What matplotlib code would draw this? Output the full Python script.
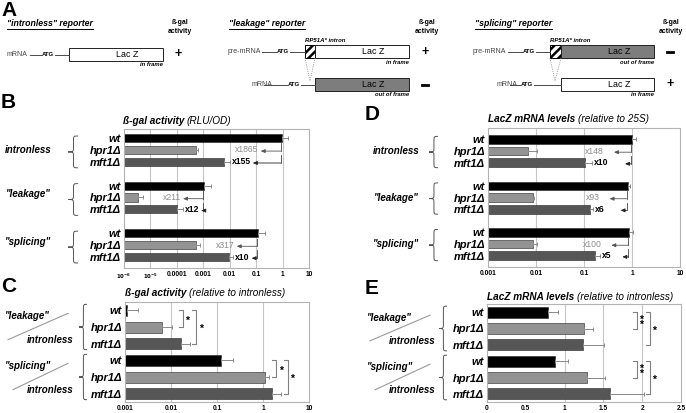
#!/usr/bin/env python
"""Reporter schematic (A) plus ß-gal activity / LacZ mRNA bar panels (B-E) for wt, hpr1Δ, mft1Δ."""
import matplotlib
matplotlib.use("Agg")
import matplotlib.pyplot as plt
from matplotlib import transforms
from matplotlib.patches import Rectangle, PathPatch
from matplotlib.path import Path
from matplotlib.ticker import NullLocator

plt.rcParams["font.family"] = ["Liberation Sans", "DejaVu Sans"]
plt.rcParams["hatch.linewidth"] = 1.8

W, H = 686, 413

STRAINS = ["wt", "hpr1Δ", "mft1Δ"]
REPORTERS = ["intronless", '"leakage"', '"splicing"']
STRAIN_COLORS = ["#000000", "#939393", "#565656"]

# B: ß-gal activity (RLU/OD), rows = reporter x strain
bgal_rlu = [0.93, 5.3e-4, 6.1e-3, 1.07e-3, 3.3e-6, 1.0e-4, 0.115, 5.3e-4, 9.8e-3]
bgal_rlu_err = [0.67, 0.9e-4, 3.9e-3, 0.83e-3, 2.1e-6, 0.7e-4, 0.105, 2.3e-4, 3.7e-3]
bgal_fold_hpr1 = ["x1865", "x211", "x317"]
bgal_fold_mft1 = ["x155", "x12", "x10"]

# D: LacZ mRNA levels relative to 25S
mrna_25s = [1.0, 0.0067, 0.105, 0.81, 0.0085, 0.133, 0.88, 0.0088, 0.17]
mrna_25s_err = [0.2, 0.0036, 0.039, 0.10, 0.0007, 0.022, 0.17, 0.0015, 0.045]
mrna_fold_hpr1 = ["x148", "x93", "x100"]
mrna_fold_mft1 = ["x10", "x6", "x5"]

# C: ß-gal activity relative to intronless ("leakage" rows then "splicing" rows)
bgal_rel = [0.00112, 0.0063, 0.0165, 0.12, 1.09, 1.55]
bgal_rel_err = [0.0008, 0.0042, 0.0095, 0.10, 0.26, 0.95]
bgal_rel_sig = ["*", "*"]      # wt vs hpr1Δ, wt vs mft1Δ

# E: LacZ mRNA relative to intronless
mrna_rel = [0.79, 1.25, 1.24, 0.87, 1.29, 1.58]
mrna_rel_err = [0.13, 0.12, 0.27, 0.17, 0.23, 0.44]
mrna_rel_sig = ["*\n*", "*"]

LOG_TICKS_B = [1e-6, 1e-5, 1e-4, 1e-3, 1e-2, 1e-1, 1, 10]
LOG_LABELS_B = [r"$\mathbf{10^{-6}}$", r"$\mathbf{10^{-5}}$", "0.0001", "0.001", "0.01", "0.1", "1", "10"]
LOG_TICKS_CD = [1e-3, 1e-2, 1e-1, 1, 10]
LOG_LABELS_CD = ["0.001", "0.01", "0.1", "1", "10"]
LIN_TICKS_E = [0, 0.5, 1, 1.5, 2, 2.5]
LIN_LABELS_E = ["0", "0.5", "1", "1.5", "2", "2.5"]

LINE = "#4a4a4a"
GREY = "#7d7d7d"

fig = plt.figure(figsize=(W / 100, H / 100), dpi=100)
ov = fig.add_axes([0, 0, 1, 1], zorder=10)
ov.set_xlim(0, W); ov.set_ylim(H, 0); ov.axis("off")
R = fig.canvas.get_renderer()


def px_rect(l, t, r, b):
    return [l / W, 1 - b / H, (r - l) / W, (b - t) / H]


def to_ov(disp):
    return ov.transData.inverted().transform(disp)


def right_edge(t):
    bb = t.get_window_extent(R)
    return to_ov((bb.x1, bb.y0))[0]


def txt(x, y, s, size, ha="left", bold=False, italic=False, color="black", **kw):
    return ov.text(x, y, s, fontsize=size, ha=ha, va="center",
                   fontweight="bold" if bold else "normal",
                   fontstyle="italic" if italic else "normal", color=color, **kw)


def hline(x0, x1, y, color=LINE, lw=0.7):
    ov.plot([x0, x1], [y, y], color=color, lw=lw)


# ---------------- Panel A: reporter schematics ----------------
def reporter_title(x, s):
    t = txt(x, 23, s, 6.3, bold=True, italic=True)
    hline(x, right_edge(t), 28.5, color="black", lw=0.7)


def activity_header(x):
    txt(x, 23, "ß-gal", 5, ha="center", bold=True)
    txt(x, 31.5, "activity", 5, ha="center", bold=True)


def transcript(label, xl, x_line0, x_atg, x_box, y):
    txt(xl, y, label, 5, color="#444")
    hline(x_line0, x_atg - 1, y)
    a = txt(x_atg, y, "ATG", 4.3, bold=True)
    hline(right_edge(a) + 1, x_box, y)


def lacz(x0, x1, y0, y1, grey, frame):
    ov.add_patch(Rectangle((x0, y0), x1 - x0, y1 - y0, facecolor=GREY if grey else "white",
                           edgecolor="#222", lw=0.7))
    txt((x0 + x1) / 2, (y0 + y1) / 2, "Lac Z", 6.4)
    txt(x1, y1 + 4, frame, 4.2, ha="right", bold=True, italic=True)


def intron(x0, x1, y0, y1, x_join, y_join):
    ov.add_patch(Rectangle((x0, y0), x1 - x0, y1 - y0, facecolor="white", edgecolor="black",
                           hatch="////", lw=0.7))
    txt(x0, y0 - 4, "RP51A* intron", 4.3, bold=True, italic=True)
    ov.plot([x0, x_join, x1], [y1, y_join, y1], color="#777", lw=0.6, ls=":")


def sign(x, y, s):
    if s == "+":
        txt(x, y, s, 9, ha="center", bold=True)
    else:
        hline(x - 3, x + 3, y, color="black", lw=2.0)


txt(1, 10, "A", 15, bold=True)
reporter_title(7, '"intronless" reporter')
activity_header(180)
transcript("mRNA", 7, 30, 42, 69, 54.5)
lacz(69, 163, 48, 61, False, "in frame")
sign(178, 54.5, "+")

reporter_title(229, '"leakage" reporter')
activity_header(427)
transcript("pre-mRNA", 228, 262, 277, 305, 51.5)
intron(305, 315, 45, 58, 310, 81)
lacz(315, 409, 45, 58, False, "in frame")
sign(425, 51.5, "+")
transcript("mRNA", 252, 264, 288, 315, 84.5)
lacz(315, 409, 78, 91, True, "out of frame")
sign(425, 84.5, "-")

reporter_title(475, '"splicing" reporter')
activity_header(671)
transcript("pre-mRNA", 473, 508, 523, 550, 51.5)
intron(550, 561, 45, 58, 555, 81)
lacz(561, 654, 45, 58, True, "out of frame")
sign(670, 51.5, "-")
transcript("mRNA", 497, 510, 521, 561, 84.5)
lacz(561, 654, 78, 91, False, "in frame")
sign(670, 84.5, "+")


# ---------------- bar panels ----------------
def bar_panel(rect, xlim, ylim, ypos, vals, errs, ticks, labels, grid, height, log=True):
    ax = fig.add_axes(rect)
    if log:
        ax.set_xscale("log")
    ax.set_xlim(*xlim); ax.set_ylim(*ylim)
    left = xlim[0]
    colors = [STRAIN_COLORS[i % 3] for i in range(len(vals))]
    ax.barh(ypos, [v - left for v in vals], left=left, height=height, color=colors,
            edgecolor="#222", linewidth=0.4, zorder=2)
    ax.errorbar(vals, ypos, xerr=[[0] * len(vals), errs], fmt="none", ecolor="#8a8a8a",
                elinewidth=0.7, capsize=1.6, capthick=0.7, zorder=3)
    for g in grid:
        ax.axvline(g, color="#c6c6c6", lw=0.8, zorder=0.5)
    ax.set_xticks(ticks)
    ax.set_xticklabels(labels, fontsize=4.8, fontweight="bold")
    for lab in ax.get_xticklabels():
        if lab.get_text().startswith("$"):
            lab.set_fontsize(3.9)
    ax.xaxis.set_minor_locator(NullLocator())
    ax.set_yticks(ypos)
    ax.set_yticklabels([STRAINS[i % 3] for i in range(len(vals))], fontsize=8,
                       fontweight="bold", fontstyle="italic")
    ax.tick_params(axis="x", length=0, pad=2.5)
    ax.tick_params(axis="y", length=0, pad=2)
    for sp in ax.spines.values():
        sp.set_color("#b3b3b3"); sp.set_linewidth(0.8)
    return ax


def row_px(ax, y):
    return to_ov(ax.transData.transform((ax.get_xlim()[1], y)))[1]


def x_px(ax, x, y):
    return to_ov(ax.transData.transform((x, y)))[0]


def brace(x_tip, y0, y1, w=9):
    xb, xe = x_tip + w * 0.55, x_tip + w
    ym = (y0 + y1) / 2
    r = min(5.0, (y1 - y0) / 5)
    verts = [(xe, y0), (xb, y0), (xb, y0), (xb, y0 + r),
             (xb, ym - r),
             (xb, ym), (xb, ym), (x_tip, ym),
             (xb, ym), (xb, ym), (xb, ym + r),
             (xb, y1 - r),
             (xb, y1), (xb, y1), (xe, y1)]
    codes = [Path.MOVETO, Path.CURVE4, Path.CURVE4, Path.CURVE4, Path.LINETO,
             Path.CURVE4, Path.CURVE4, Path.CURVE4,
             Path.CURVE4, Path.CURVE4, Path.CURVE4, Path.LINETO,
             Path.CURVE4, Path.CURVE4, Path.CURVE4]
    ov.add_patch(PathPatch(Path(verts, codes), facecolor="none", edgecolor="#555", lw=0.7))


def arrow(x_from, x_to, y, color):
    ov.annotate("", xy=(x_to, y), xytext=(x_from, y),
                arrowprops=dict(arrowstyle="-|>,head_length=0.5,head_width=0.22", color=color,
                                lw=0.6, shrinkA=0, shrinkB=0, mutation_scale=5))


def fold_hooks(ax, ypos, vals, errs, hpr1_labels, mft1_labels, arrow_len, text_gap, mft1_arrow):
    for g in range(3):
        wt = 3 * g
        xv = x_px(ax, vals[wt], ypos[wt]) - 1
        for row, label, strong in ((wt + 1, hpr1_labels[g], False), (wt + 2, mft1_labels[g], True)):
            y_top, y_a, y_t = row_px(ax, ypos[row] - 0.55), row_px(ax, ypos[row] + 0.1), row_px(ax, ypos[row])
            ov.plot([xv, xv], [y_top, y_a], color="#444", lw=0.6)
            if strong:
                start = x_px(ax, vals[row] + errs[row], ypos[row]) + 2
                t = txt(start, y_t, label, 6.2, bold=True)
                end = right_edge(t) + 2 if mft1_arrow is None else xv - mft1_arrow
                arrow(xv, end, y_a, "#222")
            else:
                txt(xv - text_gap, y_t, label, 6.2, ha="right", color="#8c8c8c")
                arrow(xv, xv - arrow_len, y_a, "#555")


def two_part_title(x, y, bold_part, rest):
    t = txt(x, y, bold_part, 7.2, bold=True, italic=True)
    txt(right_edge(t) + 2.5, y, rest, 7.2, italic=True)


ypos9 = [4 * g + s for g in range(3) for s in range(3)]
ypos6 = list(range(6))

# ---- B ----
axB = bar_panel(px_rect(124, 129, 309, 268), (1e-6, 10), ((268 - 138) / 11.9, (129 - 138) / 11.9),
                ypos9, bgal_rlu, bgal_rlu_err, LOG_TICKS_B, LOG_LABELS_B, LOG_TICKS_B[1:-1], 0.68)
txt(1, 103, "B", 15, bold=True)
two_part_title(123, 121, "ß-gal activity", "(RLU/OD)")
fold_hooks(axB, ypos9, bgal_rlu, bgal_rlu_err, bgal_fold_hpr1, bgal_fold_mft1, 20, 22, None)
for g, name in enumerate(REPORTERS):
    brace(68, row_px(axB, ypos9[3 * g]) - 2, row_px(axB, ypos9[3 * g + 2]) + 6, 10)
    txt(28, row_px(axB, ypos9[3 * g + 1]) - (0 if g == 0 else 3), name, 7, ha="center", bold=True, italic=True)

# ---- D ----
axD = bar_panel(px_rect(488, 128, 680, 267), (1e-3, 10), (10.97, -0.98),
                ypos9, mrna_25s, mrna_25s_err, LOG_TICKS_CD, LOG_LABELS_CD, LOG_TICKS_CD[1:-1], 0.75)
txt(365, 115, "D", 15, bold=True)
two_part_title(488, 119, "LacZ mRNA levels", "(relative to 25S)")
fold_hooks(axD, ypos9, mrna_25s, mrna_25s_err, mrna_fold_hpr1, mrna_fold_mft1, 17, 27, 6)
for g, name in enumerate(REPORTERS):
    brace(429, row_px(axD, ypos9[3 * g]) - 3, row_px(axD, ypos9[3 * g + 2]) + 5, 9)
    txt(396, row_px(axD, ypos9[3 * g + 1]), name, 7, ha="center", bold=True, italic=True)


# ---- C & E ----
def sig_brackets(ax, marks, xfracs, arm):
    tr = transforms.blended_transform_factory(ax.transAxes, ax.transData)
    for g in range(2):
        base = 3 * g
        for other, mark, xf in zip((base + 1, base + 2), marks, xfracs[g]):
            y0, y1 = ypos6[base], ypos6[other]
            ax.plot([xf - arm, xf, xf, xf - arm], [y0, y0, y1, y1], transform=tr,
                    color="#808080", lw=0.8, clip_on=False, zorder=4)
            ax.text(xf + 0.012, (y0 + y1) / 2 + 0.12, mark, transform=tr, fontsize=7.5,
                    fontweight="bold", ha="left", va="center", linespacing=0.45, zorder=4)


axC = bar_panel(px_rect(125, 302, 309, 402), (1e-3, 10), (5.5, -0.5),
                ypos6, bgal_rel, bgal_rel_err, LOG_TICKS_CD, LOG_LABELS_CD, LOG_TICKS_CD[1:-1], 0.66)
txt(1, 287, "C", 15, bold=True)
two_part_title(125, 293, "ß-gal activity", "(relative to intronless)")
sig_brackets(axC, bgal_rel_sig, [(0.313, 0.388), (0.823, 0.884)], 0.022)

axE = bar_panel(px_rect(487, 304, 681, 402), (0, 2.5), (5.5, -0.5),
                ypos6, mrna_rel, mrna_rel_err, LIN_TICKS_E, LIN_LABELS_E, [1, 1.5, 2], 0.66, log=False)
txt(365, 288, "E", 15, bold=True)
two_part_title(487, 297, "LacZ mRNA levels", "(relative to intronless)")
sig_brackets(axE, mrna_rel_sig, [(0.772, 0.84), (0.772, 0.84)], 0.018)

for ax, dx, tip in ((axC, 0, 79), (axE, 362, 439)):
    for g, name in enumerate(REPORTERS[1:]):
        top = row_px(ax, ypos6[3 * g])
        bot = row_px(ax, ypos6[3 * g + 2])
        brace(tip, top - 6, bot + 6, 8)
        txt(5 + dx, top + 6, name, 7, bold=True, italic=True)
        txt(73 + dx, bot - 4, REPORTERS[0], 7, ha="right", bold=True, italic=True)
        ov.plot([8 + dx + 5 * g, 68 + dx], [bot - 4, top + 3], color="#9a9a9a", lw=0.8)

fig.savefig("out.png", dpi=100)
